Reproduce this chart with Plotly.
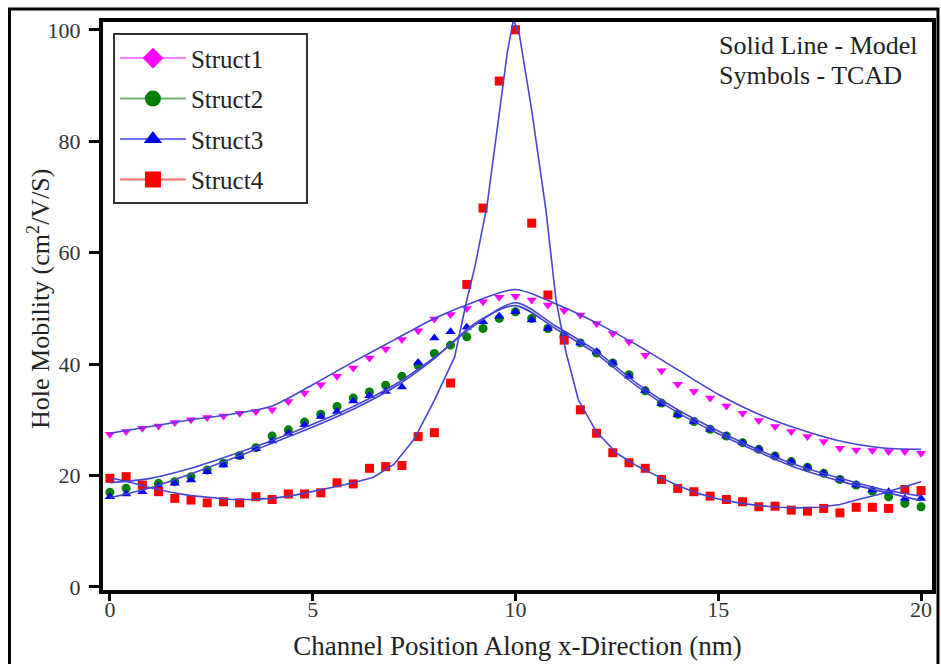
import plotly.graph_objects as go

# ---------------- data ----------------
x_tcad = [round(i * 0.4, 1) for i in range(51)]

struct1_tcad = [27.4, 27.9, 28.5, 28.9, 29.5, 30.0, 30.4, 30.7, 31.2, 31.5,
                31.8, 33.3, 34.8, 36.3, 37.8, 39.3, 41.1, 42.7, 44.4, 46.0,
                48.1, 48.9, 50.0, 51.2, 52.0, 52.2, 51.5, 50.6, 49.6, 48.8,
                47.3, 45.5, 44.0, 41.6, 38.8, 36.4, 35.1, 33.9, 32.5, 31.2,
                29.9, 28.8, 27.9, 27.0, 26.1, 24.9, 24.6, 24.5, 24.3, 24.3, 24.0]

struct2_tcad = [17.0, 17.7, 18.0, 18.6, 18.9, 19.8, 21.0, 22.2, 23.6, 25.0,
                27.1, 28.2, 29.6, 31.0, 32.4, 33.9, 35.0, 36.2, 37.8, 39.8,
                41.9, 43.4, 44.9, 46.4, 48.2, 49.4, 48.2, 46.4, 45.2, 43.8,
                42.0, 40.2, 38.1, 35.2, 33.0, 31.0, 29.7, 28.3, 27.1, 25.9,
                24.7, 23.5, 22.5, 21.5, 20.4, 19.3, 18.3, 17.2, 16.2, 15.0, 14.4]

struct3_tcad = [16.2, 16.7, 17.1, 18.1, 18.6, 19.2, 20.7, 21.9, 23.4, 24.8,
                26.2, 27.6, 29.1, 30.6, 31.5, 33.4, 34.3, 35.1, 35.9, 40.3,
                44.7, 45.8, 46.6, 47.6, 48.6, 49.4, 47.9, 46.4, 45.2, 43.8,
                42.2, 40.2, 37.8, 35.2, 32.9, 30.9, 29.7, 28.3, 27.1, 25.9,
                24.7, 23.5, 22.5, 21.5, 20.4, 19.3, 18.3, 17.4, 17.1, 15.9, 15.9]

struct4_tcad = [19.5, 19.8, 18.3, 17.1, 15.9, 15.6, 15.1, 15.3, 15.1, 16.2,
                15.7, 16.7, 16.7, 16.9, 18.7, 18.5, 21.3, 21.6, 21.8, 27.0,
                27.7, 36.6, 54.3, 68.0, 90.8, 100.0, 65.3, 52.4, 44.3, 31.8,
                27.6, 24.1, 22.3, 21.3, 19.3, 17.7, 17.1, 16.3, 15.7, 15.3,
                14.4, 14.5, 13.8, 13.6, 14.1, 13.3, 14.3, 14.3, 14.1, 17.5, 17.3]

x_model = list(range(21))
struct1_model = [27.6, 28.8, 30.0, 31.0, 32.5, 36.3, 40.4, 44.3, 48.2, 51.2, 53.4,
                 50.8, 47.4, 43.4, 39.0, 34.6, 31.0, 28.3, 26.2, 25.0, 24.7]
struct2_model = [18.7, 19.5, 21.3, 23.7, 26.3, 29.2, 32.4, 36.2, 41.2, 47.0, 51.0,
                 46.8, 42.3, 36.5, 31.8, 28.0, 24.6, 21.7, 19.5, 17.6, 16.3]
struct3_model = [16.0, 17.8, 20.3, 23.0, 25.8, 28.7, 31.9, 35.8, 41.0, 47.3, 50.5,
                 46.3, 41.8, 36.0, 31.3, 27.5, 24.2, 21.2, 19.0, 17.2, 15.5]

x_model4 = [0, 0.5, 1, 1.5, 2, 2.5, 3, 3.5, 4, 4.5, 5, 5.5, 6, 6.5, 7, 7.5, 8, 8.5,
            8.8, 9.0, 9.3, 9.6, 9.8, 9.95, 10.1, 10.4, 10.75, 11.0, 11.25, 11.55,
            12, 12.5, 13, 13.5, 14, 14.5, 15, 15.5, 16, 16.5, 17, 17.5, 18, 18.5,
            19, 19.5, 20]
struct4_model = [19.6, 18.8, 17.8, 17.0, 16.4, 16.0, 15.7, 15.7, 15.9, 16.4, 17.1,
                 17.9, 18.7, 19.7, 22.0, 26.5, 33.5, 41.3, 51.5, 57.5, 68.5, 85.6,
                 96.0, 101.8, 99.0, 85.6, 67.7, 51.5, 42.0, 33.6, 27.8, 24.0, 21.7,
                 19.9, 18.2, 16.8, 15.8, 15.1, 14.6, 14.3, 14.2, 14.3, 14.8, 15.8,
                 16.7, 17.8, 18.9]

names = ["Struct1", "Struct2", "Struct3", "Struct4"]
colors = ["#ff00ff", "#008000", "#0000ff", "#ff0000"]
legend_line_colors = ["#ff80ff", "#70b070", "#7070ff", "#ff7070"]
plot_symbols = ["triangle-down", "circle", "triangle-up", "square"]
legend_symbols = ["diamond", "circle", "triangle-up", "square"]
model_color = "#4646d2"

FONT = "Liberation Serif, Times New Roman, serif"
PAD = "&nbsp;" * 6

fig = go.Figure()

tcad = [struct1_tcad, struct2_tcad, struct3_tcad, struct4_tcad]
for i in range(4):
    fig.add_trace(go.Scatter(
        x=x_tcad, y=tcad[i], mode="markers", showlegend=False,
        marker=dict(symbol=plot_symbols[i], color=colors[i], size=9,
                    line=dict(width=0)),
        hoverinfo="skip"))

models = [(x_model, struct1_model), (x_model, struct2_model),
          (x_model, struct3_model), (x_model4, struct4_model)]
for i, (mx, my) in enumerate(models):
    fig.add_trace(go.Scatter(
        x=mx, y=my, mode="lines", showlegend=False,
        line=dict(color=model_color, width=1.6,
                  shape="spline" if i < 3 else "linear", smoothing=0.8),
        hoverinfo="skip"))

for i in range(4):
    fig.add_trace(go.Scatter(
        x=[None], y=[None], mode="lines+markers", name=names[i] + PAD,
        legendgroup=names[i],
        line=dict(color=legend_line_colors[i], width=2),
        marker=dict(symbol=legend_symbols[i], color=colors[i], size=18)))

fig.update_layout(
    width=941, height=664,
    margin=dict(l=103, r=5, t=22, b=74),
    paper_bgcolor="white", plot_bgcolor="white",
    font=dict(family=FONT, size=22, color="#222"),
    showlegend=True,
    legend=dict(x=0.012, y=0.98, xanchor="left", yanchor="top",
                bgcolor="white", bordercolor="#333", borderwidth=2,
                font=dict(family=FONT, size=25, color="#222"),
                tracegroupgap=5, itemwidth=66),
    xaxis=dict(range=[-0.17, 20.27], tickvals=[0, 5, 10, 15, 20],
               showline=True, linewidth=4, linecolor="black", mirror=True,
               ticks="outside", ticklen=7, tickwidth=3, tickcolor="black",
               showgrid=False, zeroline=False, ticklabelstandoff=-10,
               tickfont=dict(family=FONT, size=22, color="#333"),
               title=dict(text="Channel Position Along x-Direction (nm)",
                          font=dict(family=FONT, size=27, color="#222"),
                          standoff=16)),
    yaxis=dict(range=[-0.54, 101.4], tickvals=[0, 20, 40, 60, 80, 100],
               showline=True, linewidth=4, linecolor="black", mirror=True,
               ticks="outside", ticklen=10, tickwidth=3, tickcolor="black",
               showgrid=False, zeroline=False, ticklabelstandoff=4,
               tickfont=dict(family=FONT, size=22, color="#333")),
    annotations=[
        dict(text="Hole Mobility (cm<sup>2</sup>/V/S)", xref="paper", yref="paper",
             x=-0.0775, y=0.512, xanchor="center", yanchor="middle",
             textangle=-90, showarrow=False,
             font=dict(family=FONT, size=26, color="#222")),
        dict(text="Solid Line - Model", xref="paper", yref="paper",
             x=0.7407, y=0.958, xanchor="left", yanchor="middle",
             showarrow=False, font=dict(family=FONT, size=26, color="#222")),
        dict(text="Symbols - TCAD", xref="paper", yref="paper",
             x=0.7407, y=0.905, xanchor="left", yanchor="middle",
             showarrow=False, font=dict(family=FONT, size=26, color="#222")),
    ],
    shapes=[dict(type="rect", xref="paper", yref="paper",
                 x0=-0.1128, x1=1.0072, y0=-0.16, y1=1.0229,
                 line=dict(color="black", width=3), layer="below")],
)

fig.write_html("out.html")
